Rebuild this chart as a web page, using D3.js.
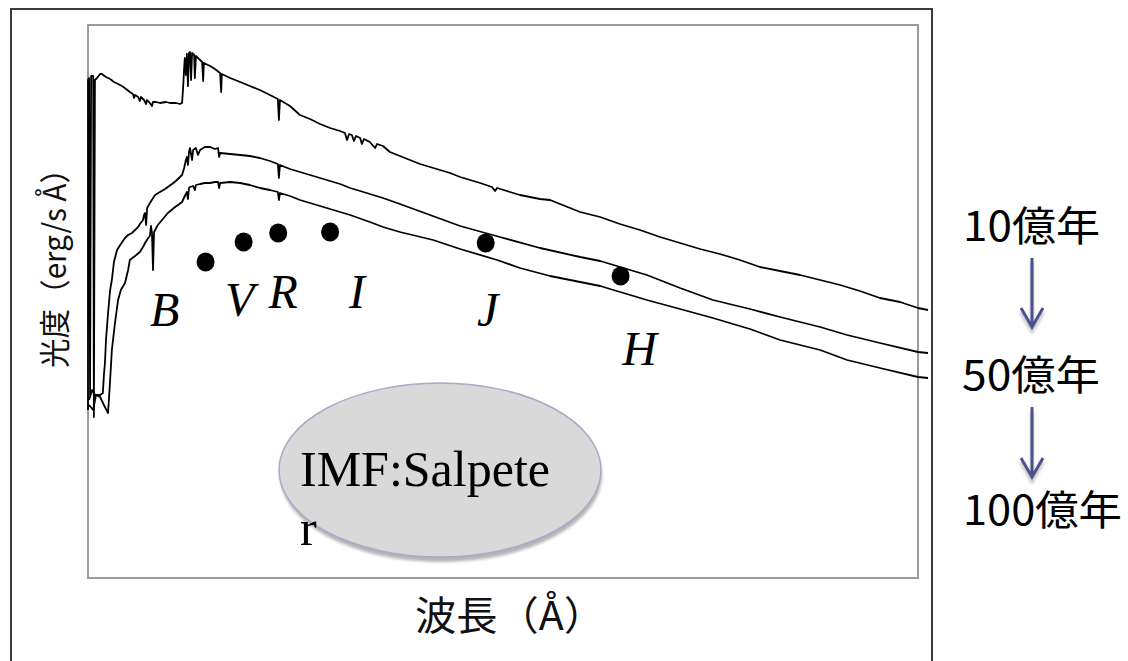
<!DOCTYPE html>
<html>
<head>
<meta charset="utf-8">
<script src="https://cdn.jsdelivr.net/npm/d3@7"></script>
<style>
  html, body { margin: 0; padding: 0; background: #fff; }
  svg { display: block; }
</style>
</head>
<body>
<svg id="chart" width="1128" height="661"></svg>
<script>
// Model galaxy spectra (Salpeter IMF) at three ages: wavelength in Å, luminosity in relative units
const ages = ["10億年", "50億年", "100億年"];

const spec10 = [
  [1000,16.8],[1000,49.8],[1030,50.0],[1060,18.3],[1090,50.2],[1150,50.2],[1170,16.1],[1200,49.8],
  [1260,50.0],[1350,50.4],[1400,50.4],[1520,50.1],[1640,49.9],[1750,49.6],[1870,49.4],[1980,49.2],
  [2100,48.9],[2210,48.6],[2300,48.4],[2330,48.0],[2360,48.3],[2450,48.1],[2500,47.7],[2530,48.1],
  [2620,47.8],[2680,47.4],[2710,47.8],[2790,47.5],[2850,47.2],[2880,47.6],[2970,47.6],[3080,47.5],
  [3260,47.6],[3370,47.5],[3540,47.5],[3660,47.4],[3720,47.5],[3750,49.0],[3780,51.0],[3800,52.0],
  [3830,50.3],[3860,52.4],[3890,49.2],[3920,52.5],[3950,52.6],[3980,49.8],[4010,52.5],[4070,52.3],
  [4090,50.0],[4120,52.2],[4240,51.8],[4300,51.6],[4330,49.7],[4350,51.5],[4530,51.2],[4670,50.9],
  [4820,50.5],[4850,48.6],[4870,50.4],[5110,50.0],[5400,49.6],[5680,49.2],[5970,48.8],[6260,48.3],
  [6490,47.9],[6520,45.8],[6550,47.8],[6840,47.2],[7130,46.3],[7420,45.9],[7710,45.4],[8000,45.0],
  [8290,44.7],[8430,44.5],[8490,43.8],[8550,44.4],[8630,44.3],[8690,43.7],[8750,44.2],[8870,44.0],
  [8920,43.4],[8980,43.9],[9150,43.6],[9300,43.0],[9360,43.4],[9530,43.2],[9730,42.6],[10020,42.2],
  [10310,41.8],[10600,41.4],[10890,41.1],[11180,40.8],[11470,40.5],[11760,40.1],[12050,39.8],
  [12340,39.5],[12680,39.1],[12770,38.7],[12830,39.0],[13200,38.6],[13490,38.3],[13780,38.1],
  [14070,37.9],[14360,37.8],[14650,37.4],[14940,37.0],[15230,36.6],[15810,36.1],[16380,35.4],
  [16960,34.8],[17540,34.1],[18120,33.5],[18700,32.9],[19270,32.4],[19850,31.8],[20430,31.1],
  [21010,30.7],[21590,30.3],[22170,29.8],[22750,29.3],[23320,28.7],[23900,28.0],[24480,27.6],
  [25000,27.0],[25290,26.8]
];

const spec50 = [
  [1030,17.8],[1120,18.8],[1200,18.3],[1350,18.3],[1430,18.5],[1460,20.3],[1490,21.5],[1520,23.8],
  [1580,26.5],[1640,28.8],[1690,29.8],[1750,31.6],[1840,32.8],[1930,33.3],[2070,34.0],[2160,34.3],
  [2270,34.5],[2390,34.9],[2450,35.1],[2500,35.4],[2590,35.8],[2620,36.3],[2650,36.5],[2680,35.3],
  [2710,37.0],[2790,37.5],[2940,38.3],[3080,38.6],[3230,38.9],[3310,39.1],[3430,39.4],[3540,39.7],
  [3660,40.1],[3720,40.3],[3780,41.0],[3830,41.8],[3860,42.1],[3890,41.3],[3920,42.6],[3950,43.0],
  [4010,41.8],[4040,42.8],[4120,43.0],[4180,42.3],[4240,42.8],[4380,43.1],[4530,43.1],[4670,42.9],
  [4760,43.0],[4790,42.1],[4820,42.5],[5110,42.4],[5400,42.3],[5680,42.2],[5970,42.0],[6260,41.7],
  [6490,41.4],[6520,40.0],[6550,41.3],[6840,40.9],[7130,40.6],[7710,40.0],[8290,39.4],[8580,39.0],
  [8870,38.7],[9150,38.4],[9530,38.0],[10020,37.4],[10890,36.3],[11760,35.2],[12910,34.1],
  [14070,33.0],[15230,32.1],[15810,31.7],[17160,30.3],[18120,29.0],[19070,27.8],[20140,26.9],
  [21010,26.1],[22170,25.1],[22950,24.3],[23900,23.5],[25000,22.6],[25290,22.5]
];

const spec100 = [
  [1030,17.3],[1150,16.8],[1230,18.3],[1350,18.1],[1460,17.3],[1580,16.5],[1640,19.8],[1690,22.8],
  [1780,25.5],[1870,27.8],[1950,28.8],[2070,29.5],[2160,30.8],[2210,31.8],[2360,32.2],[2500,32.6],
  [2590,33.1],[2650,33.5],[2740,34.0],[2790,34.2],[2820,35.2],[2850,34.5],[2880,30.8],[2910,34.6],
  [3020,35.3],[3140,35.8],[3310,36.5],[3520,37.1],[3720,37.6],[3800,38.2],[3860,38.6],[3890,37.9],
  [3920,39.0],[3950,39.1],[4040,39.2],[4090,38.8],[4120,39.3],[4240,39.4],[4380,39.5],[4530,39.5],
  [4670,39.6],[4760,39.6],[4790,39.0],[4820,39.5],[5110,39.6],[5400,39.5],[5680,39.3],[5970,39.0],
  [6260,38.8],[6490,38.6],[6520,37.8],[6550,38.5],[6840,38.2],[7130,37.8],[7710,37.2],[8290,36.6],
  [8580,36.3],[9150,35.6],[9530,35.1],[10020,34.6],[10980,33.8],[11760,32.9],[12830,31.8],
  [13490,31.0],[14360,30.2],[15230,29.6],[15810,29.2],[17160,27.8],[18120,26.9],[19070,26.0],
  [20140,24.9],[21010,23.8],[22170,22.8],[22950,21.8],[23900,21.0],[25000,20.1],[25290,20.0]
];

// Photometric bands
const bandNames = ["B", "V", "R", "I", "J", "H"];
const bandWavelengths = [4400, 5500, 6500, 8000, 12500, 16400];
const bandFlux = [31.6, 33.6, 34.5, 34.6, 33.5, 30.2];

const svg = d3.select("#chart");

// Outer slide frame
svg.append("rect")
  .attr("x", 11).attr("y", 9).attr("width", 921).attr("height", 720)
  .attr("fill", "none").attr("stroke", "#3c3c3c").attr("stroke-width", 2);

const plot = { left: 88, right: 918, top: 25, bottom: 578 };

const x = d3.scaleLinear().domain([1000, 25000]).range([plot.left, plot.right]);
const y = d3.scaleLinear().domain([0, 55.3]).range([plot.bottom, plot.top]);

// Plot frame (no tick marks)
svg.append("rect")
  .attr("x", plot.left).attr("y", plot.top)
  .attr("width", plot.right - plot.left).attr("height", plot.bottom - plot.top)
  .attr("fill", "none").attr("stroke", "#9b9b9b").attr("stroke-width", 2);

const line = d3.line().x(d => x(d[0])).y(d => y(d[1]));

svg.append("g").selectAll("path")
  .data([spec10, spec50, spec100])
  .join("path")
  .attr("d", line)
  .attr("fill", "none")
  .attr("stroke", "#000")
  .attr("stroke-width", 1.8)
  .attr("stroke-linejoin", "round");

// Band points
const bands = bandNames.map((n, i) => ({ name: n, w: bandWavelengths[i], f: bandFlux[i] }));
svg.append("g").selectAll("ellipse")
  .data(bands)
  .join("ellipse")
  .attr("cx", d => x(d.w))
  .attr("cy", d => y(d.f))
  .attr("rx", 9).attr("ry", 9.5)
  .attr("fill", "#000");

// Band labels placed under their points
const labelShift = { B: [-41, 64], V: [-4, 74], R: [5, 75], I: [27, 76], J: [2, 83], H: [19, 89] };
svg.append("g").selectAll("text")
  .data(bands)
  .join("text")
  .attr("x", d => x(d.w) + labelShift[d.name][0])
  .attr("y", d => y(d.f) + labelShift[d.name][1])
  .attr("text-anchor", "middle")
  .attr("font-family", "Liberation Serif, 'Times New Roman', serif")
  .attr("font-style", "italic")
  .attr("font-size", 48)
  .attr("fill", "#000")
  .text(d => d.name);

// IMF note in a shaded ellipse
const defs = svg.append("defs");
defs.append("filter").attr("id", "soft")
  .attr("x", "-10%").attr("y", "-10%").attr("width", "120%").attr("height", "130%")
  .append("feGaussianBlur").attr("stdDeviation", 1.6);

svg.append("ellipse")
  .attr("cx", 441).attr("cy", 475).attr("rx", 161).attr("ry", 87)
  .attr("fill", "#b4b4b4").attr("filter", "url(#soft)");
svg.append("ellipse")
  .attr("cx", 440).attr("cy", 470).attr("rx", 161).attr("ry", 87)
  .attr("fill", "#d9d9d9").attr("stroke", "#a8abc6").attr("stroke-width", 1.5);

const note = svg.append("text")
  .attr("font-family", "Liberation Serif, 'Times New Roman', serif")
  .attr("font-size", 50)
  .attr("fill", "#000");
note.append("tspan").attr("x", 300).attr("y", 486).text("IMF:Salpete");
note.append("tspan").attr("x", 300).attr("y", 545).text("r");

// Axis titles
svg.append("text")
  .attr("x", 415).attr("y", 630)
  .attr("font-family", "'Noto Sans CJK JP', sans-serif")
  .attr("font-size", 40)
  .attr("textLength", 190).attr("lengthAdjust", "spacingAndGlyphs")
  .attr("fill", "#111")
  .text("波長（Å）");

svg.append("text")
  .attr("transform", "translate(66,368) rotate(-90)")
  .attr("font-family", "'Noto Sans CJK JP', sans-serif")
  .attr("font-size", 31)
  .attr("textLength", 214).attr("lengthAdjust", "spacingAndGlyphs")
  .attr("fill", "#111")
  .text("光度（erg/s Å）");

// Age sequence on the right
const ageLayout = [ { x: 963, y: 241, w: 137 }, { x: 962, y: 390, w: 138 }, { x: 963, y: 525, w: 159 } ];
svg.append("g").selectAll("text")
  .data(ages)
  .join("text")
  .attr("x", (d, i) => ageLayout[i].x)
  .attr("y", (d, i) => ageLayout[i].y)
  .attr("textLength", (d, i) => ageLayout[i].w)
  .attr("lengthAdjust", "spacingAndGlyphs")
  .attr("font-family", "'Noto Sans CJK JP', sans-serif")
  .attr("font-size", 41)
  .attr("fill", "#000")
  .text(d => d);

const arrows = [ { x: 1032, y0: 258, y1: 327 }, { x: 1032, y0: 407, y1: 477 } ];
const arrowPath = a =>
  `M${a.x},${a.y0} L${a.x},${a.y1} M${a.x - 11},${a.y1 - 19} L${a.x},${a.y1} L${a.x + 11},${a.y1 - 19}`;
svg.append("g").selectAll("path")
  .data(arrows)
  .join("path")
  .attr("d", arrowPath)
  .attr("transform", "translate(0,4)")
  .attr("fill", "none").attr("stroke", "#c4c4c4").attr("stroke-width", 3.5)
  .attr("filter", "url(#soft)");
svg.append("g").selectAll("path")
  .data(arrows)
  .join("path")
  .attr("d", arrowPath)
  .attr("fill", "none").attr("stroke", "#4d5190").attr("stroke-width", 3)
  .attr("stroke-linejoin", "miter");
</script>
</body>
</html>
